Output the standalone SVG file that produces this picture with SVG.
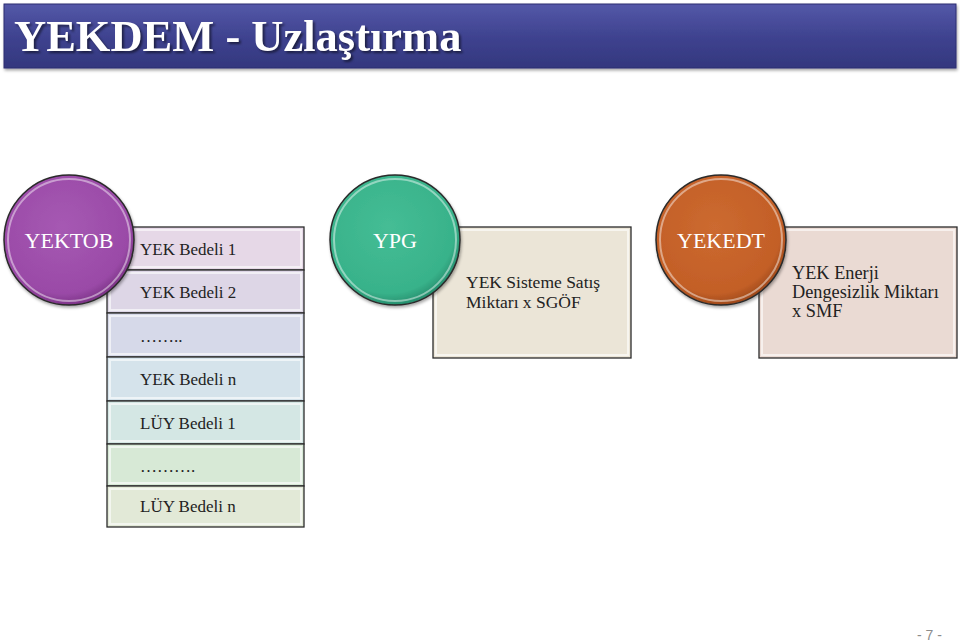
<svg xmlns="http://www.w3.org/2000/svg" width="960" height="644" viewBox="0 0 960 644">
<defs>
<linearGradient id="gTitle" x1="0" y1="0" x2="0" y2="1">
<stop offset="0" stop-color="#5458a8"/>
<stop offset="0.5" stop-color="#3f4390"/>
<stop offset="1" stop-color="#33377e"/>
</linearGradient>
<radialGradient id="gPurple" cx="0.45" cy="0.4" r="0.6">
<stop offset="0" stop-color="#a659b3"/>
<stop offset="0.85" stop-color="#9a4aa7"/>
<stop offset="1" stop-color="#7e3589"/>
</radialGradient>
<radialGradient id="gGreen" cx="0.45" cy="0.4" r="0.6">
<stop offset="0" stop-color="#45bd95"/>
<stop offset="0.85" stop-color="#38b28a"/>
<stop offset="1" stop-color="#27906f"/>
</radialGradient>
<radialGradient id="gOrange" cx="0.45" cy="0.4" r="0.6">
<stop offset="0" stop-color="#cc6a30"/>
<stop offset="0.85" stop-color="#c35f27"/>
<stop offset="1" stop-color="#a04a1a"/>
</radialGradient>
<filter id="shadow" x="-10%" y="-10%" width="120%" height="130%">
<feDropShadow dx="1" dy="2" stdDeviation="1.5" flood-color="#000" flood-opacity="0.35"/>
</filter>
</defs>
<style>
.title{font-family:"Liberation Serif","DejaVu Serif",serif;font-weight:bold;font-size:44.5px;fill:#ffffff;}
.circ{stroke:#2a2a2a;stroke-width:1.5;}
.hl{fill:none;stroke:#ffffff;stroke-opacity:0.45;stroke-width:2;}
.clabel{font-family:"Liberation Serif","DejaVu Serif",serif;font-size:22px;fill:#ffffff;text-anchor:middle;}
.box{stroke:#2b2b2b;stroke-width:1.3;}
.inset{fill:none;stroke:#ffffff;stroke-opacity:0.6;stroke-width:2;}
.txt{font-family:"Liberation Serif","DejaVu Serif",serif;font-size:17px;fill:#222222;}
.page{font-family:"Liberation Sans","DejaVu Sans",sans-serif;font-size:14px;fill:#8c8c8c;}
</style>

<g id="title">
<rect x="4" y="4" width="952" height="64" fill="url(#gTitle)" stroke="#2c2f70" stroke-width="1" filter="url(#shadow)"/>
<text x="14" y="51" class="title" style="filter:drop-shadow(2px 2px 1px rgba(0,0,0,0.5))">YEKDEM - Uzlaştırma</text>
</g>

<g id="yektob-list">
<rect x="107" y="227" width="197" height="43" class="box" fill="#e6d8e7"/>
<rect x="110" y="230" width="191" height="37" class="inset"/>
<text x="140" y="255" class="txt">YEK Bedeli 1</text>
<rect x="107" y="270" width="197" height="43" class="box" fill="#ddd6e6"/>
<rect x="110" y="273" width="191" height="37" class="inset"/>
<text x="140" y="298" class="txt">YEK Bedeli 2</text>
<rect x="107" y="313" width="197" height="44" class="box" fill="#d6d9e9"/>
<rect x="110" y="316" width="191" height="38" class="inset"/>
<text x="140" y="342" class="txt">……..</text>
<rect x="107" y="357" width="197" height="44" class="box" fill="#d5e3eb"/>
<rect x="110" y="360" width="191" height="38" class="inset"/>
<text x="140" y="385" class="txt">YEK Bedeli n</text>
<rect x="107" y="401" width="197" height="43" class="box" fill="#d4e7e4"/>
<rect x="110" y="404" width="191" height="37" class="inset"/>
<text x="140" y="429" class="txt">LÜY Bedeli 1</text>
<rect x="107" y="444" width="197" height="42" class="box" fill="#d7e9d6"/>
<rect x="110" y="447" width="191" height="36" class="inset"/>
<text x="140" y="472" class="txt">……….</text>
<rect x="107" y="486" width="197" height="41" class="box" fill="#e2e9d7"/>
<rect x="110" y="489" width="191" height="35" class="inset"/>
<text x="140" y="512" class="txt">LÜY Bedeli n</text>
</g>

<g id="yektob">
<circle cx="69" cy="240" r="65" class="circ" fill="url(#gPurple)" filter="url(#shadow)"/>
<circle cx="69" cy="240" r="61" class="hl"/>
<text x="69" y="248" class="clabel">YEKTOB</text>
</g>

<g id="ypg-box">
<rect x="433" y="227" width="198" height="131" class="box" fill="#ebe5d7"/>
<rect x="436" y="230" width="192" height="125" class="inset"/>
<text x="466" y="288" class="txt" style="font-size:17.5px">YEK Sisteme Satış</text>
<text x="466" y="308" class="txt" style="font-size:17.5px">Miktarı x SGÖF</text>
</g>

<g id="ypg">
<circle cx="395" cy="240" r="65" class="circ" fill="url(#gGreen)" filter="url(#shadow)"/>
<circle cx="395" cy="240" r="61" class="hl"/>
<text x="395" y="248" class="clabel">YPG</text>
</g>

<g id="yekedt-box">
<rect x="759" y="227" width="198" height="131" class="box" fill="#eadad3"/>
<rect x="762" y="230" width="192" height="125" class="inset"/>
<text x="792" y="279" class="txt" style="font-size:18.3px">YEK Enerji</text>
<text x="792" y="298" class="txt" style="font-size:18.3px">Dengesizlik Miktarı</text>
<text x="792" y="317" class="txt" style="font-size:18.3px">x  SMF</text>
</g>

<g id="yekedt">
<circle cx="721" cy="240" r="65" class="circ" fill="url(#gOrange)" filter="url(#shadow)"/>
<circle cx="721" cy="240" r="61" class="hl"/>
<text x="721" y="248" class="clabel">YEKEDT</text>
</g>

<g id="connectors"></g>

<text x="917" y="640" class="page">- 7 -</text>
</svg>
